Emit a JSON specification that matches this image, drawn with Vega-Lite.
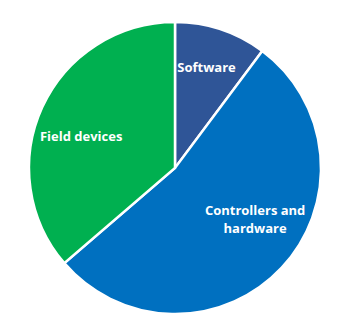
{
  "$schema": "https://vega.github.io/schema/vega-lite/v6.json",
  "width": 350,
  "height": 336,
  "autosize": {"type": "fit", "contains": "padding"},
  "padding": 0,
  "background": "white",
  "config": {"view": {"stroke": null}},
  "data": {
    "values": [
      {"segment": "Software", "label": "Software", "share": 10.2, "rank": 1},
      {"segment": "Controllers and hardware", "label": "Controllers and\nhardware", "share": 53.5, "rank": 2},
      {"segment": "Field devices", "label": "Field devices", "share": 36.3, "rank": 3}
    ]
  },
  "encoding": {
    "theta": {"field": "share", "type": "quantitative", "stack": true},
    "order": {"field": "rank", "type": "quantitative"}
  },
  "layer": [
    {
      "mark": {"type": "arc", "outerRadius": 146, "stroke": "white", "strokeWidth": 2.5},
      "encoding": {
        "color": {
          "field": "segment",
          "type": "nominal",
          "scale": {
            "domain": ["Software", "Controllers and hardware", "Field devices"],
            "range": ["#2F5597", "#0070C0", "#00B050"]
          },
          "legend": null
        }
      }
    },
    {
      "mark": {
        "type": "text",
        "radius": 100,
        "dy": -5,
        "color": "white",
        "font": "Open Sans",
        "fontWeight": "bold",
        "fontSize": 13
      },
      "encoding": {"text": {"condition": {"test": "datum.rank == 1", "field": "label"}, "value": ""}}
    },
    {
      "mark": {
        "type": "text",
        "radius": 100,
        "dx": 7,
        "dy": -25,
        "color": "white",
        "font": "Open Sans",
        "fontWeight": "bold",
        "fontSize": 13,
        "lineBreak": "\n",
        "lineHeight": 18
      },
      "encoding": {"text": {"condition": {"test": "datum.rank == 2", "field": "label"}, "value": ""}}
    },
    {
      "mark": {
        "type": "text",
        "radius": 100,
        "dx": -3,
        "dy": 11,
        "color": "white",
        "font": "Open Sans",
        "fontWeight": "bold",
        "fontSize": 13
      },
      "encoding": {"text": {"condition": {"test": "datum.rank == 3", "field": "label"}, "value": ""}}
    }
  ]
}
